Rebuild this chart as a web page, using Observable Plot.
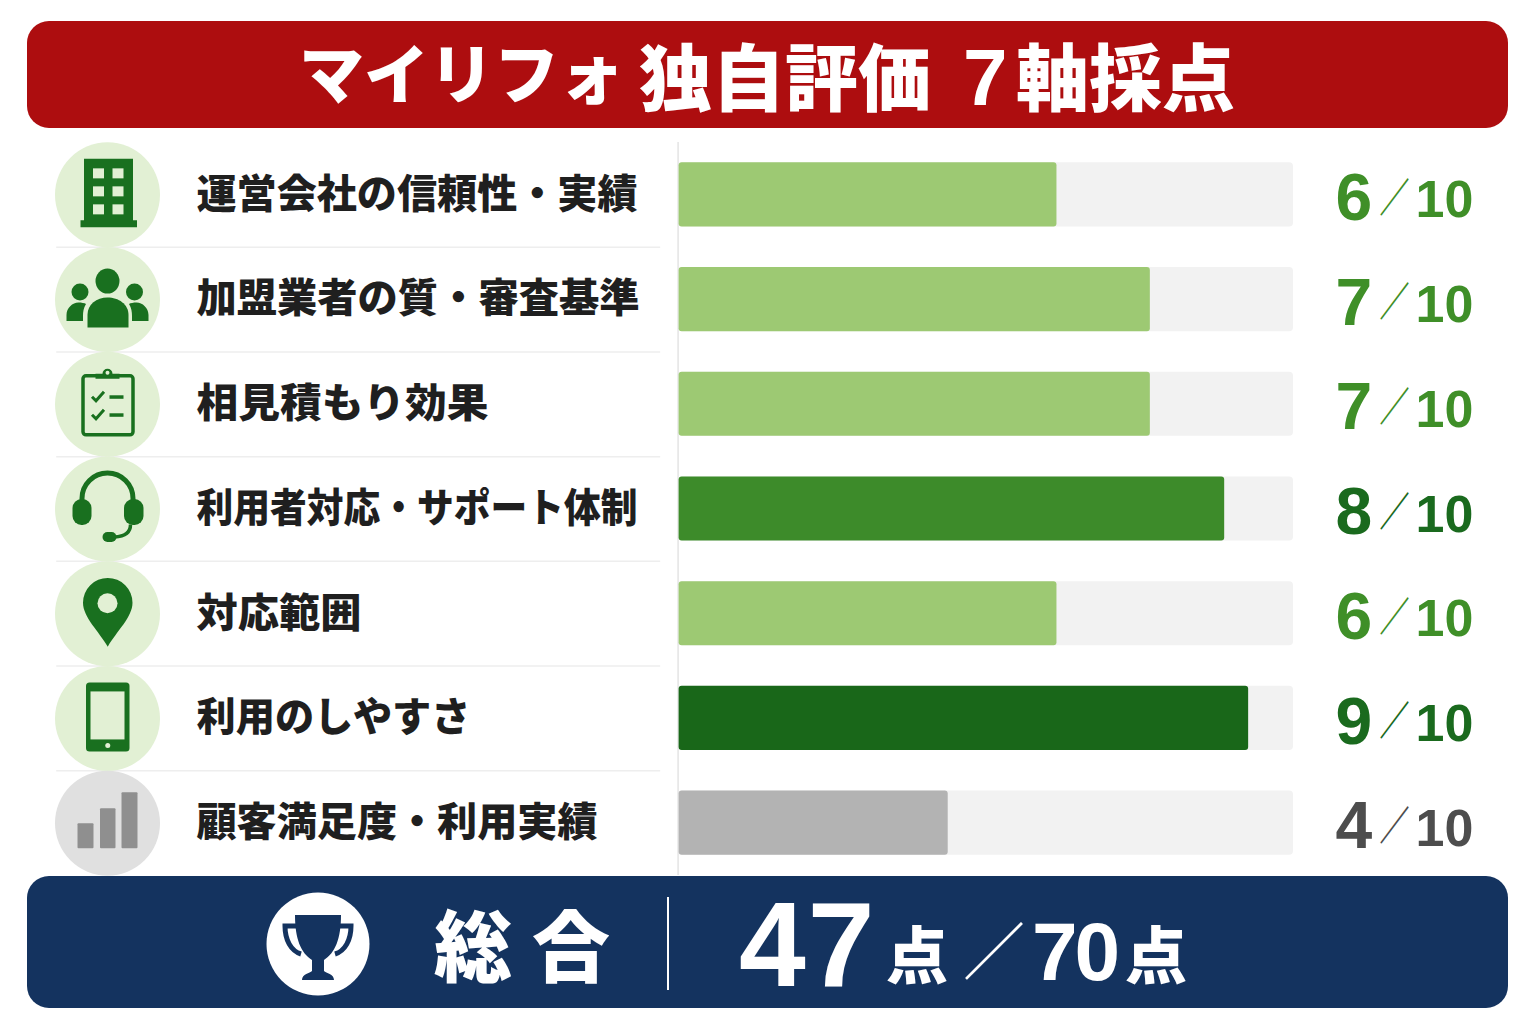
<!DOCTYPE html>
<html lang="ja">
<head>
<meta charset="utf-8">
<script src="https://cdn.jsdelivr.net/npm/d3@7"></script>
<script src="https://cdn.jsdelivr.net/npm/@observablehq/plot@0.6"></script>
<style>
html,body{margin:0;padding:0;background:#fff;width:1536px;height:1024px;overflow:hidden}
#page{position:relative;width:1536px;height:1024px}
.banner{position:absolute;left:27px;width:1481px;border-radius:22px}
.t{position:absolute;color:#fff;white-space:nowrap;line-height:1;font-family:"Noto Sans CJK JP";font-weight:900}
.num{font-family:"Liberation Sans";font-weight:700}
#chart{position:absolute;left:0;top:142px}
#chart svg{overflow:visible;background:transparent;display:block}
</style>
</head>
<body>
<div id="page">
  <div class="banner" style="top:21px;height:107px;background:#ad0d0f"></div>
  <span class="t" style="left:299px;top:38px;font-size:65px">マイリフォ</span>
  <span class="t" style="left:639px;top:37px;font-size:73px">独自評価</span>
  <span class="t num" style="left:963px;top:38px;font-size:80px">7</span>
  <span class="t" style="left:1016px;top:37px;font-size:73px">軸採点</span>
  <div id="chart"></div>
  <div class="banner" style="top:876px;height:132px;background:#14335f"></div>
  <svg style="position:absolute;left:266px;top:892px" width="104" height="104" viewBox="0 0 104 104">
    <circle cx="52" cy="52" r="51.5" fill="#fff"/>
    <path d="M30 34H19c0 14 6 25 16 28M74 34h11c0 14-6 25-16 28" fill="none" stroke="#14335f" stroke-width="5"/>
    <path d="M29 23h46c0 24-6 38-17 45v11c2 2 10 3 10 9H36c0-6 8-7 10-9V68C35 61 29 47 29 23z" fill="#14335f"/>
  </svg>
  <span class="t" style="left:434px;top:903px;font-size:78px;letter-spacing:20px">総合</span>
  <div style="position:absolute;left:667px;top:897px;width:2px;height:93px;background:#fff"></div>
  <span class="t num" style="left:739px;top:884px;font-size:120px;letter-spacing:2px">47</span>
  <span class="t" style="left:886px;top:921px;font-size:62px">点</span>
  <span class="t" style="left:963px;top:917px;font-size:62px;font-weight:400">／</span>
  <span class="t num" style="left:1032px;top:911px;font-size:82px;letter-spacing:-3px">70</span>
  <span class="t" style="left:1125px;top:921px;font-size:62px">点</span>
</div>
<script>
const labels = ["運営会社の信頼性・実績","加盟業者の質・審査基準","相見積もり効果","利用者対応・サポート体制","対応範囲","利用のしやすさ","顧客満足度・利用実績"];
const scores = [6,7,7,8,6,9,4];
const barLengths = [6.15,7.67,7.67,8.88,6.15,9.27,4.38];
const labelWidths = [441,443,292,441,165,274,401];
const maxScore = 10;
const barColors = ["#9dc973","#9dc973","#9dc973","#3d8b2a","#9dc973","#196719","#b3b3b3"];
const textColors = ["#3f8f28","#3f8f28","#3f8f28","#1a6a1e","#3f8f28","#1a6a1e","#4d4d4d"];
const circleColors = ["#e2f0d4","#e2f0d4","#e2f0d4","#e2f0d4","#e2f0d4","#e2f0d4","#e0e0e0"];

const G = "#19701f", C = "#e2f0d4";
const iconBodies = [
  `<path d="M29 16.5h49V78h4v7H25.500v-7H29z" fill="${G}"/><g fill="${C}"><rect x="38" y="26" width="11" height="10"/><rect x="57.500" y="26" width="11" height="10"/><rect x="38" y="44" width="11" height="10"/><rect x="57.500" y="44" width="11" height="10"/><rect x="38" y="62" width="11" height="10"/><rect x="57.500" y="62" width="11" height="10"/></g>`,
  `<g fill="${G}"><ellipse cx="52.500" cy="34" rx="12" ry="12.500"/><path d="M32.500 80.500V68c0-11 9-17.500 20-17.500s21 6.500 21 17.500v12.500z"/><circle cx="25" cy="45" r="8.500"/><circle cx="79.500" cy="45" r="8.500"/><path d="M11.500 74v-6c0-7 6-12.500 12-12.500 3 0 6 .5 7.500 1.500-2.500 4-3 8-3 12v5z"/><path d="M93.500 74v-6c0-7-6-12.500-12-12.500-3 0-6 .5-7.500 1.500 2.500 4 3 8 3 12v5z"/></g>`,
  `<rect x="28" y="24" width="50" height="59" rx="3" fill="none" stroke="${G}" stroke-width="3.500"/><path d="M40.500 27v-5h7a5 5 0 0 1 10 0h7v5z" fill="${G}"/><circle cx="52.500" cy="21" r="2" fill="${C}"/><g fill="none" stroke="${G}" stroke-width="3"><path d="M37 45l4 4 8-9M37 63l4 4 8-9"/></g><g fill="${G}"><rect x="54.500" y="43.500" width="14" height="3.500"/><rect x="54.500" y="61.500" width="14" height="3.500"/></g>`,
  `<path d="M27 48V42a25.500 25.500 0 0 1 51 0v6" fill="none" stroke="${G}" stroke-width="5"/><rect x="17.500" y="42.500" width="19" height="26" rx="9" fill="${G}"/><rect x="69" y="42.500" width="19.500" height="26" rx="9" fill="${G}"/><path d="M75.500 68c0 8-6 12-16 12.500" fill="none" stroke="${G}" stroke-width="3.500"/><rect x="47.500" y="75.500" width="14" height="10" rx="5" fill="${G}"/>`,
  `<path d="M52.750 85.500C44 70 28 56 28 41.500a24.750 24.750 0 0 1 49.500 0C77.500 56 61.500 70 52.750 85.500z" fill="${G}"/><circle cx="52.500" cy="42" r="10" fill="${C}"/>`,
  `<rect x="31" y="16.500" width="43.500" height="69" rx="3.500" fill="${G}"/><rect x="35.500" y="25.500" width="34" height="48" fill="${C}"/><circle cx="52.750" cy="79.500" r="2.500" fill="${C}"/>`,
  `<g fill="#8f8f8f"><rect x="22.500" y="52.500" width="16" height="25" rx="1"/><rect x="45" y="37.500" width="15.500" height="40" rx="1"/><rect x="66.500" y="21.500" width="16" height="56" rx="1"/></g>`
];
const icons = iconBodies.map(b => "data:image/svg+xml;utf8," + encodeURIComponent(`<svg xmlns="http://www.w3.org/2000/svg" viewBox="0 0 105 105" width="105" height="105">${b}</svg>`));

const rows = labels.map((label, i) => ({label, score: scores[i], len: barLengths[i], bar: barColors[i], txt: textColors[i], circle: circleColors[i], icon: icons[i]}));
const CJK = "Noto Sans CJK JP", NUM = "Liberation Sans";

const chart = Plot.plot({
  width: 1536, height: 733,
  marginLeft: 0, marginRight: 0, marginTop: 0, marginBottom: 0,
  x: {domain: [0, maxScore], range: [678.6, 1293], axis: null},
  y: {type: "band", domain: labels, range: [0, 733], padding: 0, round: false, axis: null},
  marks: [
    Plot.ruleX([0], {stroke: "#e4e4e4", strokeWidth: 1.5, dx: -1}),
    Plot.ruleY(labels.slice(0, -1), {y: d => d, x1: -10.13, x2: -0.3, dy: 52.35, stroke: "#eeeeee", strokeWidth: 1.5}),
    Plot.dot(rows, {x: () => 0, y: "label", r: 52.5, dx: -571.6, fill: "circle"}),
    Plot.image(rows, {x: () => 0, y: "label", src: "icon", width: 105, height: 105, dx: -571.6}),
    Plot.text(rows, {x: () => 0, y: "label", text: "label", textAnchor: "start", dx: -482.6, dy: 0, fill: "#1f1f1f", fontFamily: CJK, fontWeight: 900, fontSize: 40}),
    Plot.barX(rows, {x1: () => 0, x2: () => maxScore, y: "label", fill: "#f2f2f2", insetTop: 20.3, insetBottom: 20.3, rx: 4}),
    Plot.barX(rows, {x1: () => 0, x2: "len", y: "label", fill: "bar", insetTop: 20.3, insetBottom: 20.3, rx: 3}),
    Plot.text(rows, {x: () => maxScore, y: "label", text: "score", textAnchor: "start", dx: 42, dy: 4, fill: "txt", fontFamily: NUM, fontWeight: 700, fontSize: 66}),
    Plot.text(rows, {x: () => maxScore, y: "label", text: () => "／", textAnchor: "middle", dx: 101, dy: 4, fill: "txt", fontFamily: CJK, fontWeight: 700, fontSize: 40}),
    Plot.text(rows, {x: () => maxScore, y: "label", text: () => String(maxScore), textAnchor: "start", dx: 122, dy: 6, fill: "txt", fontFamily: NUM, fontWeight: 700, fontSize: 52})
  ]
});
chart.querySelectorAll("text").forEach(t => {
  const i = labels.indexOf(t.textContent);
  if (i >= 0) { t.setAttribute("textLength", labelWidths[i]); t.setAttribute("lengthAdjust", "spacingAndGlyphs"); }
  if (t.textContent === "／") { t.setAttribute("textLength", 30); t.setAttribute("lengthAdjust", "spacingAndGlyphs"); }
});
document.getElementById("chart").appendChild(chart);
</script>
</body>
</html>
